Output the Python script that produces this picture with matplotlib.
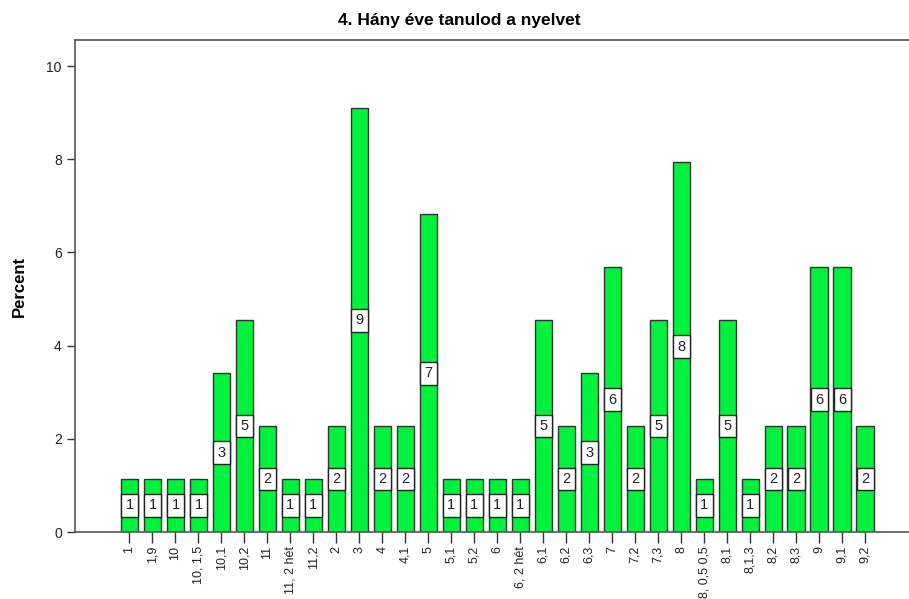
import matplotlib
matplotlib.use("Agg")
import matplotlib.pyplot as plt

categories = ["1", "1,9", "10", "10, 1,5", "10,1", "10,2", "11", "11, 2 hét", "11,2",
              "2", "3", "4", "4,1", "5", "5,1", "5,2", "6", "6, 2 hét", "6,1", "6,2",
              "6,3", "7", "7,2", "7,3", "8", "8, 0,5 0,5", "8,1", "8,1,3", "8,2", "8,3",
              "9", "9,1", "9,2"]
percent = [1.14, 1.14, 1.14, 1.14, 3.41, 4.55, 2.27, 1.14, 1.14,
           2.27, 9.09, 2.27, 2.27, 6.82, 1.14, 1.14, 1.14, 1.14, 4.55, 2.27,
           3.41, 5.68, 2.27, 4.55, 7.95, 1.14, 4.55, 1.14, 2.27, 2.27,
           5.68, 5.68, 2.27]
bar_labels = ["1", "1", "1", "1", "3", "5", "2", "1", "1",
              "2", "9", "2", "2", "7", "1", "1", "1", "1", "5", "2",
              "3", "6", "2", "5", "8", "1", "5", "1", "2", "2",
              "6", "6", "2"]
yticks = [0, 2, 4, 6, 8, 10]

plt.rcParams['font.family'] = ['Liberation Sans', 'DejaVu Sans']

fig = plt.figure(figsize=(9.09, 5.99), dpi=100)
ax = fig.add_axes([75/909, (599-532)/599, 1 - 75/909 + 0.01, (532-40)/599])

x = list(range(len(categories)))
ax.bar(x, percent, width=0.76, color='#00F23C', edgecolor='#333333', linewidth=1.0, zorder=2)

for xi, p, lab in zip(x, percent, bar_labels):
    ax.text(xi, p / 2, lab, ha='center', va='center', fontsize=10.5, color='#222222', zorder=3,
            bbox=dict(boxstyle='square,pad=0.3', facecolor='white', edgecolor='#222222', linewidth=1.0))

ax.set_xlim(-2.37, 34.3)
ax.set_ylim(0, 10.56)
ax.set_yticks(yticks)
ax.set_yticklabels([str(t) for t in yticks], fontsize=10)
ax.set_xticks(x)
ax.set_xticklabels(categories, rotation=90, fontsize=9, va='top', ha='center')
ax.tick_params(axis='y', direction='out', length=6, width=1, colors='#333333', labelcolor='#222222')
ax.tick_params(axis='x', direction='out', length=8, width=1, colors='#333333', labelcolor='#222222', pad=2)

for s in ['left', 'top', 'bottom']:
    ax.spines[s].set_color('#555555')
    ax.spines[s].set_linewidth(1.2)
ax.spines['right'].set_visible(False)

ax.set_ylabel('Percent', fontsize=12, fontweight='bold', labelpad=14)
fig.text(0.505, 0.965, '4. Hány éve tanulod a nyelvet', ha='center', va='center',
         fontsize=12.5, fontweight='bold')

fig.savefig('out.png', dpi=100)
